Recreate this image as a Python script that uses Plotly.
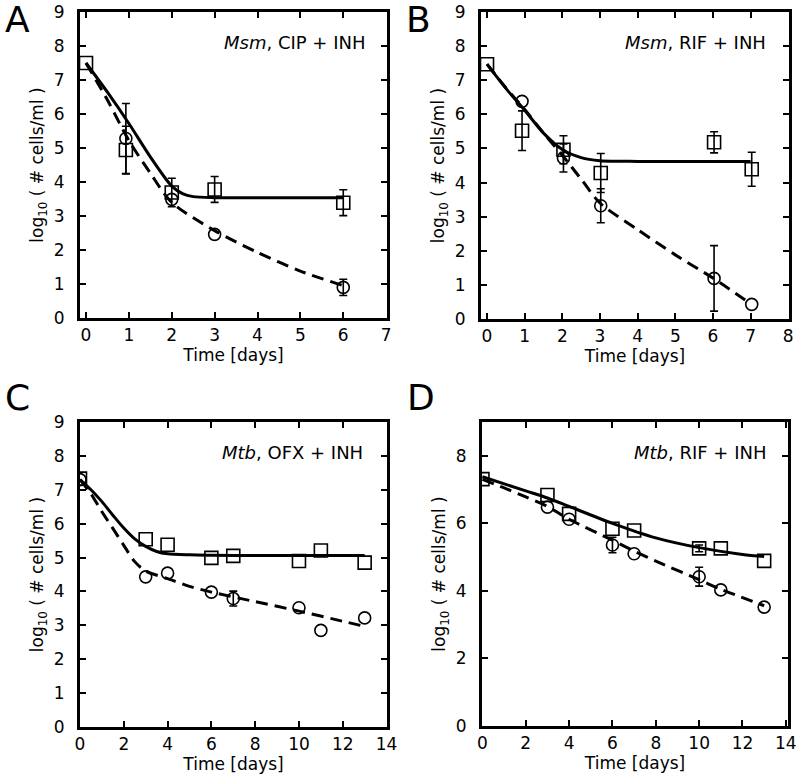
import plotly.graph_objects as go

# ---------------- Panel A: Msm, CIP + INH ----------------
A_sq_t = [0, 0.93, 2, 3, 6]
A_sq_y = [7.5, 4.94, 3.69, 3.78, 3.39]
A_sq_err = [0, 0.70, 0.42, 0.38, 0.38]
A_ci_t = [0.93, 2, 3, 6]
A_ci_y = [5.28, 3.49, 2.46, 0.90]
A_ci_err = [1.03, 0, 0, 0.24]
A_solid_t = [0, 0.5, 1, 1.5, 2, 2.25, 2.5, 3, 4, 5, 6]
A_solid_y = [7.5, 6.64, 5.72, 4.74, 3.88, 3.66, 3.57, 3.54, 3.54, 3.54, 3.54]
A_dash_t = [0, 0.5, 1, 1.5, 2, 3, 4, 5, 6]
A_dash_y = [7.5, 6.41, 5.22, 4.26, 3.40, 2.57, 1.93, 1.38, 0.95]

# ---------------- Panel B: Msm, RIF + INH ----------------
B_sq_t = [0, 0.93, 2.03, 3.02, 6.03, 7.03]
B_sq_y = [7.47, 5.52, 4.96, 4.28, 5.18, 4.39]
B_sq_err = [0, 0.58, 0.41, 0.57, 0.31, 0.50]
B_ci_t = [0.93, 2.03, 3.02, 6.03, 7.03]
B_ci_y = [6.38, 4.72, 3.32, 1.19, 0.43]
B_ci_err = [0, 0.41, 0.50, 0.96, 0]
B_solid_t = [0, 0.5, 1, 1.5, 2, 2.5, 3, 4, 5, 6, 7]
B_solid_y = [7.47, 6.76, 6.12, 5.45, 4.97, 4.73, 4.64, 4.62, 4.62, 4.62, 4.62]
B_dash_t = [0, 0.5, 1, 1.5, 2, 2.5, 3, 4, 5, 6, 7]
B_dash_y = [7.47, 6.78, 6.14, 5.45, 4.80, 4.10, 3.40, 2.62, 1.88, 1.20, 0.45]

# ---------------- Panel C: Mtb, OFX + INH ----------------
C_sq_t = [0, 3, 4, 6, 7, 10, 11, 13]
C_sq_y = [7.33, 5.54, 5.38, 4.99, 5.05, 4.90, 5.21, 4.85]
C_sq_err = [0, 0, 0, 0, 0, 0, 0, 0]
C_ci_t = [0, 3, 4, 6, 7, 10, 11, 13]
C_ci_y = [7.30, 4.43, 4.54, 3.98, 3.79, 3.52, 2.85, 3.22]
C_ci_err = [0, 0, 0, 0, 0.22, 0, 0, 0]
C_solid_t = [0, 0.5, 1, 1.5, 2, 2.5, 3, 3.5, 4, 5, 6, 8, 10, 13]
C_solid_y = [7.30, 7.00, 6.65, 6.25, 5.87, 5.55, 5.33, 5.18, 5.11, 5.08, 5.07, 5.06, 5.06, 5.06]
C_dash_t = [0, 0.5, 1, 1.5, 2, 2.5, 3, 4, 5, 6, 8, 10, 12, 13]
C_dash_y = [7.30, 6.88, 6.35, 5.86, 5.36, 4.88, 4.60, 4.38, 4.15, 3.98, 3.70, 3.42, 3.12, 2.97]

# ---------------- Panel D: Mtb, RIF + INH ----------------
D_sq_t = [0, 3, 4, 6, 7, 10, 11, 13]
D_sq_y = [7.31, 6.84, 6.28, 5.84, 5.79, 5.26, 5.26, 4.89]
D_sq_err = [0, 0, 0, 0, 0, 0.1, 0, 0]
D_ci_t = [3, 4, 6, 7, 10, 11, 13]
D_ci_y = [6.48, 6.12, 5.36, 5.10, 4.42, 4.03, 3.52]
D_ci_err = [0, 0, 0.23, 0, 0.28, 0, 0]
D_solid_t = [0, 2, 3, 4, 6, 8, 10, 12, 13]
D_solid_y = [7.38, 6.96, 6.75, 6.50, 6.00, 5.57, 5.28, 5.08, 5.02]
D_dash_t = [0, 1, 2, 3, 4, 6, 7, 8, 10, 11, 13]
D_dash_y = [7.30, 7.05, 6.78, 6.50, 6.12, 5.50, 5.18, 4.88, 4.33, 4.05, 3.56]

# ---------------- Labels ----------------
panel_letters = ["A", "B", "C", "D"]
panel_titles = ["<i>Msm</i>, CIP + INH", "<i>Msm</i>, RIF + INH",
                "<i>Mtb</i>, OFX + INH", "<i>Mtb</i>, RIF + INH"]
x_title = "Time [days]"
y_title = "log<sub>10</sub> ( # cells/ml )"
A_xticks = [0, 1, 2, 3, 4, 5, 6, 7]
B_xticks = [0, 1, 2, 3, 4, 5, 6, 7, 8]
CD_xticks = [0, 2, 4, 6, 8, 10, 12, 14]
ABC_yticks = [0, 1, 2, 3, 4, 5, 6, 7, 8, 9]
D_yticks = [0, 2, 4, 6, 8]

W, H = 798, 779
FONT = "DejaVu Sans"

panels = [
    dict(sq=(A_sq_t, A_sq_y, A_sq_err), ci=(A_ci_t, A_ci_y, A_ci_err),
         solid=(A_solid_t, A_solid_y), dash=(A_dash_t, A_dash_y),
         px=(80, 387), py=(12, 318), xr=[-0.14, 7.02], xt=A_xticks, yt=ABC_yticks),
    dict(sq=(B_sq_t, B_sq_y, B_sq_err), ci=(B_ci_t, B_ci_y, B_ci_err),
         solid=(B_solid_t, B_solid_y), dash=(B_dash_t, B_dash_y),
         px=(481, 789), py=(12, 319), xr=[-0.16, 8.02], xt=B_xticks, yt=ABC_yticks),
    dict(sq=(C_sq_t, C_sq_y, C_sq_err), ci=(C_ci_t, C_ci_y, C_ci_err),
         solid=(C_solid_t, C_solid_y), dash=(C_dash_t, C_dash_y),
         px=(80, 387), py=(422, 727), xr=[0, 14.02], xt=CD_xticks, yt=ABC_yticks),
    dict(sq=(D_sq_t, D_sq_y, D_sq_err), ci=(D_ci_t, D_ci_y, D_ci_err),
         solid=(D_solid_t, D_solid_y), dash=(D_dash_t, D_dash_y),
         px=(482, 788), py=(422, 726), xr=[-0.02, 14.1], xt=CD_xticks, yt=D_yticks),
]

letter_pos = [(3, 20), (404, 20), (3, 397), (405, 397)]
title_pos = [(367, 43), (768, 43), (365, 452), (768, 453)]

fig = go.Figure()
layout = {}
annotations = []

for i, p in enumerate(panels):
    n = "" if i == 0 else str(i + 1)
    xa, ya = "x" + n, "y" + n
    x0, x1 = p["px"]
    y0, y1 = p["py"]
    axis_common = dict(
        showline=True, linewidth=3, linecolor="black", mirror="ticks",
        ticks="inside", ticklen=6, tickwidth=2, tickcolor="black",
        showgrid=False, zeroline=False, automargin=False,
        tickfont=dict(family=FONT, size=17, color="black"),
    )
    layout["xaxis" + n] = dict(
        axis_common, domain=[x0 / W, x1 / W], range=p["xr"], tickvals=p["xt"],
        anchor=ya, ticklabelstandoff=0,
        title=dict(text=x_title, font=dict(family=FONT, size=17, color="black"), standoff=5),
    )
    layout["yaxis" + n] = dict(
        axis_common, domain=[1 - y1 / H, 1 - y0 / H], range=[0, 9], tickvals=p["yt"],
        anchor=xa, ticklabelstandoff=9,
        title=dict(text=y_title, font=dict(family=FONT, size=17, color="black"), standoff=6),
    )

    st, sy = p["solid"]
    dt, dy = p["dash"]
    fig.add_trace(go.Scatter(x=st, y=sy, mode="lines", xaxis=xa, yaxis=ya,
                             line=dict(color="black", width=3, shape="spline", smoothing=0.8),
                             showlegend=False, hoverinfo="skip"))
    fig.add_trace(go.Scatter(x=dt, y=dy, mode="lines", xaxis=xa, yaxis=ya,
                             line=dict(color="black", width=3, shape="spline", smoothing=0.8,
                                       dash="12px,7px"),
                             showlegend=False, hoverinfo="skip"))

    for (t, y, e), sym, size in [(p["ci"], "circle-open", 12), (p["sq"], "square-open", 13)]:
        et = [a for a, b in zip(t, e) if b > 0]
        ey = [a for a, b in zip(y, e) if b > 0]
        ee = [b for b in e if b > 0]
        if et:
            fig.add_trace(go.Scatter(x=et, y=ey, mode="markers", xaxis=xa, yaxis=ya,
                                     marker=dict(size=1, color="rgba(0,0,0,0)"),
                                     error_y=dict(type="data", array=ee, visible=True,
                                                  color="black", thickness=1.6, width=4),
                                     showlegend=False, hoverinfo="skip"))
        fig.add_trace(go.Scatter(x=t, y=y, mode="markers", xaxis=xa, yaxis=ya,
                                 marker=dict(symbol=sym, size=size, color="black",
                                             line=dict(width=1.6, color="black")),
                                 showlegend=False))

    lx, ly = letter_pos[i]
    annotations.append(dict(text=panel_letters[i], xref="paper", yref="paper",
                            x=lx / W, y=1 - ly / H, xanchor="left", yanchor="middle",
                            showarrow=False, font=dict(family=FONT, size=36, color="black")))
    tx, ty = title_pos[i]
    annotations.append(dict(text=panel_titles[i], xref="paper", yref="paper",
                            x=tx / W, y=1 - ty / H, xanchor="right", yanchor="middle",
                            showarrow=False, font=dict(family=FONT, size=18, color="black")))

fig.update_layout(
    width=W, height=H, margin=dict(l=0, r=0, t=0, b=0, pad=0, autoexpand=False),
    paper_bgcolor="white", plot_bgcolor="white",
    annotations=annotations, **layout,
)

fig.write_html("out.html", config={"displayModeBar": False},
               post_script="document.body.style.margin='0px';")
